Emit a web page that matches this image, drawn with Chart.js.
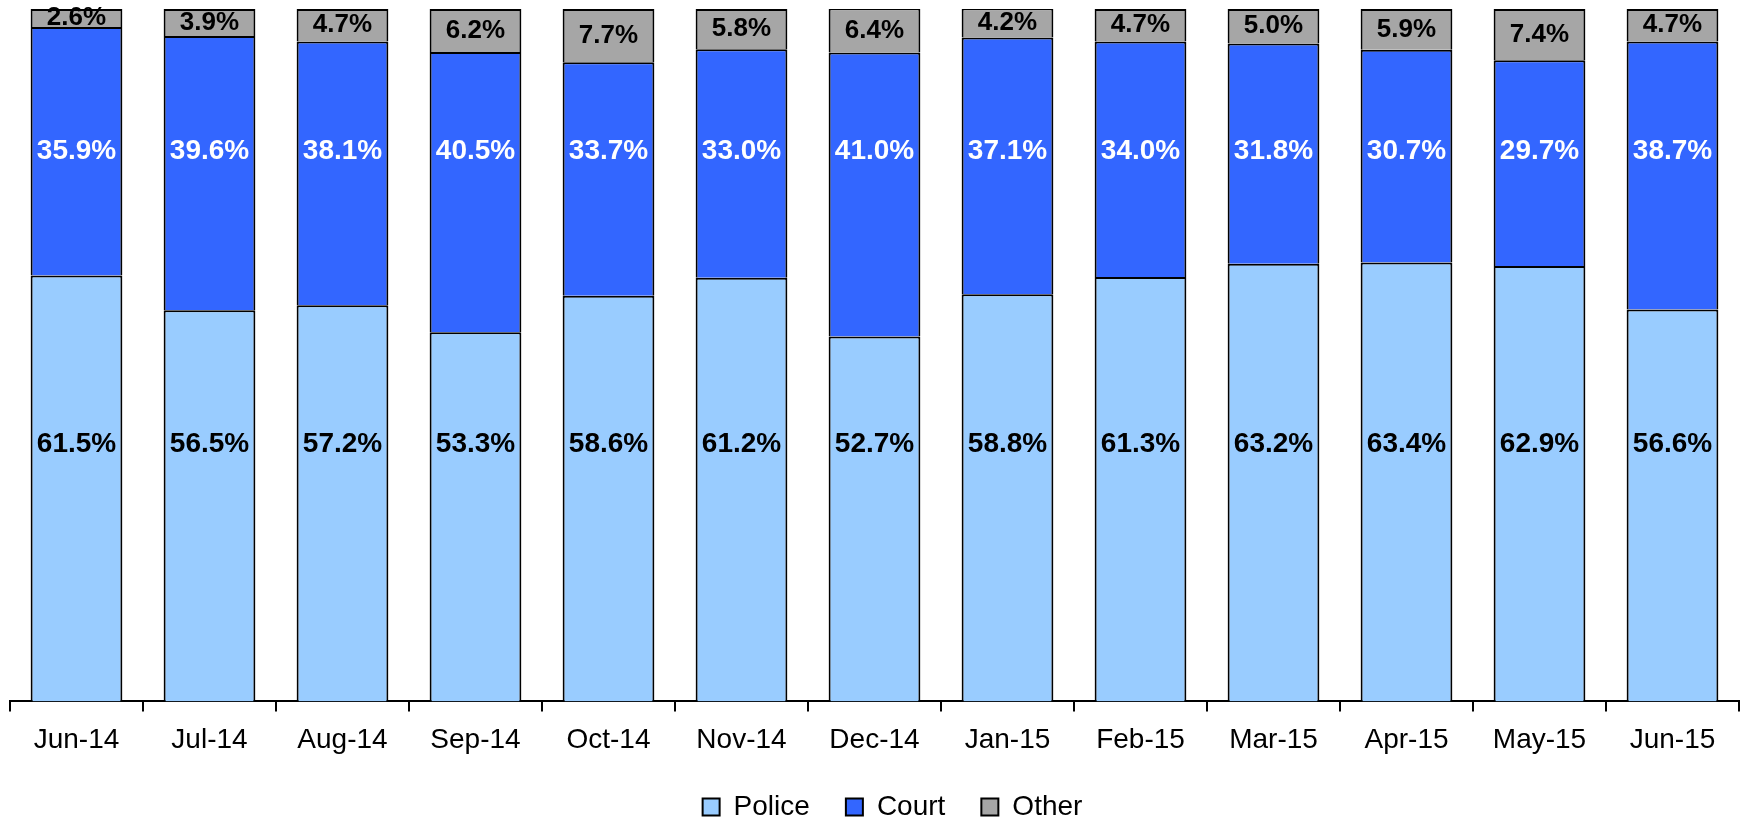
<!DOCTYPE html>
<html>
<head>
<meta charset="utf-8">
<title>Police / Court / Other share by month</title>
<script src="https://cdn.jsdelivr.net/npm/chart.js@4/dist/chart.umd.min.js"></script>
<style>
    html, body { margin: 0; padding: 0; background: #fff; }
    #wrap { width: 1742px; height: 819px; }
</style>
</head>
<body>
<div id="wrap"><canvas id="share-chart"></canvas></div>
<script>
    'use strict';

    // Data
    const months = ['Jun-14', 'Jul-14', 'Aug-14', 'Sep-14', 'Oct-14', 'Nov-14', 'Dec-14',
                    'Jan-15', 'Feb-15', 'Mar-15', 'Apr-15', 'May-15', 'Jun-15'];
    const police = [61.5, 56.5, 57.2, 53.3, 58.6, 61.2, 52.7, 58.8, 61.3, 63.2, 63.4, 62.9, 56.6];
    const court  = [35.9, 39.6, 38.1, 40.5, 33.7, 33.0, 41.0, 37.1, 34.0, 31.8, 30.7, 29.7, 38.7];
    const other  = [2.6, 3.9, 4.7, 6.2, 7.7, 5.8, 6.4, 4.2, 4.7, 5.0, 5.9, 7.4, 4.7];

    const FONT = '"Liberation Sans", Arial, sans-serif';
    const LEGEND_PAD = 36;

    /**
     * Draws the value labels on each bar segment.
     * labelAt: fixed level on the value axis, or null for the segment middle
     */
    const valueLabels = {
        id: 'valueLabels',
        afterDatasetsDraw: function(chart) {
            const ctx = chart.ctx;
            const yScale = chart.scales.y;
            ctx.save();
            ctx.textAlign = 'center';
            ctx.textBaseline = 'middle';
            chart.data.datasets.forEach(function(ds, di) {
                const meta = chart.getDatasetMeta(di);
                ctx.fillStyle = ds.labelColor;
                ctx.font = 'bold ' + ds.labelSize + 'px ' + FONT;
                meta.data.forEach(function(bar, i) {
                    let y;
                    if (ds.labelAt != null) {
                        y = yScale.getPixelForValue(ds.labelAt);
                    } else {
                        y = (bar.y + bar.base) / 2;
                    }
                    ctx.fillText(ds.data[i].toFixed(1) + '%', bar.x, y);
                });
            });
            ctx.restore();
        }
    };

    // Legend row width counts the gap after the last item too; re-centre it
    const legendCentre = {
        id: 'legendCentre',
        afterLayout: function(chart) {
            if (chart.legend) {
                chart.legend.left += LEGEND_PAD / 2;
                chart.legend.right += LEGEND_PAD / 2;
            }
        }
    };

    const barStyle = {
        borderColor: '#000',
        borderWidth: 2,
        categoryPercentage: 1,
        barPercentage: 0.69
    };

    new Chart(document.getElementById('share-chart'), {
        type: 'bar',
        data: {
            labels: months,
            datasets: [
                Object.assign({ label: 'Police', data: police, backgroundColor: '#99CCFF',
                    labelColor: '#000', labelSize: 28, labelAt: 37.2 }, barStyle),
                Object.assign({ label: 'Court', data: court, backgroundColor: '#3366FF',
                    labelColor: '#fff', labelSize: 28, labelAt: 79.5 }, barStyle),
                Object.assign({ label: 'Other', data: other, backgroundColor: '#A6A6A6',
                    labelColor: '#000', labelSize: 26, labelAt: null }, barStyle)
            ]
        },
        options: {
            responsive: true,
            maintainAspectRatio: false,
            animation: false,
            layout: {
                padding: { top: 9, left: 10, right: 3, bottom: 0 }
            },
            plugins: {
                tooltip: { enabled: false },
                legend: {
                    position: 'bottom',
                    maxHeight: 62,
                    labels: {
                        color: '#000',
                        font: { family: FONT, size: 28 },
                        boxWidth: 17,
                        boxHeight: 17,
                        padding: LEGEND_PAD
                    }
                }
            },
            scales: {
                x: {
                    stacked: true,
                    grid: {
                        offset: true,
                        drawOnChartArea: false,
                        drawTicks: true,
                        tickLength: 10,
                        color: '#000',
                        lineWidth: 2
                    },
                    border: { display: true, color: '#000', width: 2 },
                    ticks: {
                        color: '#000',
                        font: { family: FONT, size: 28 },
                        padding: 12,
                        maxRotation: 0,
                        autoSkip: false
                    },
                    // padding is counted twice in the axis height; drop the spare one
                    afterFit: function(scale) {
                        scale.height -= scale.options.ticks.padding;
                    }
                },
                y: {
                    stacked: true,
                    display: false,
                    min: 0,
                    max: 100
                }
            }
        },
        plugins: [valueLabels, legendCentre]
    });
</script>
</body>
</html>
